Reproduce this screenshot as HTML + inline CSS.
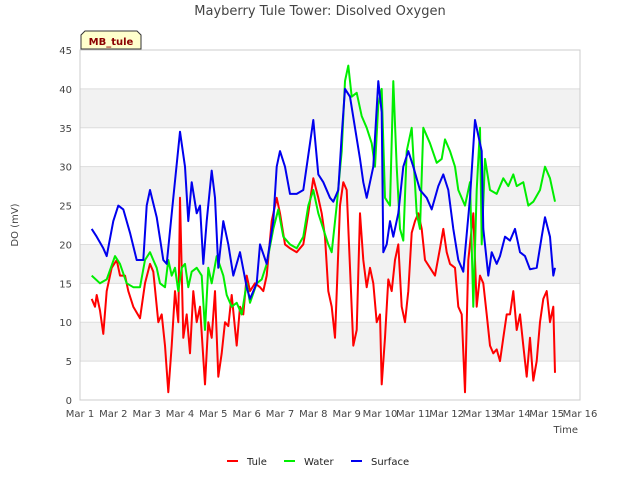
<!DOCTYPE html>
<html><head><meta charset="utf-8"><style>
body{margin:0;background:#fff;font-family:"DejaVu Sans","Liberation Sans",sans-serif;}
svg text{font-family:"DejaVu Sans","Liberation Sans",sans-serif;}
</style></head><body>
<svg id="chart" width="640" height="480" xmlns="http://www.w3.org/2000/svg">
<rect width="640" height="480" fill="#fff"/>
<text x="320" y="15" text-anchor="middle" font-size="13" fill="#444">Mayberry Tule Tower: Disolved Oxygen</text>
<g id="bands"></g>
<g id="grid"></g>
<rect x="80" y="50" width="500" height="350" fill="none" stroke="#ccc"/>
<g id="series"></g>
<g id="axes"></g>
<text transform="translate(18,225) rotate(-90)" text-anchor="middle" font-size="10" fill="#444">DO (mV)</text>
<text x="578" y="433" text-anchor="end" font-size="10" fill="#444">Time</text>
<g>
<path d="M81,49 L81,35 L85,31 L137,31 L141,35 L141,49 Z" fill="#ffffcc" stroke="#333"/>
<text x="111" y="45" text-anchor="middle" font-size="10" font-weight="bold" fill="#8b0000">MB_tule</text>
</g>
<g id="legend"></g>
</svg>
<script>
const yTicks=[0,5,10,15,20,25,30,35,40,45];
const xTickLabels=["Mar 1","Mar 2","Mar 3","Mar 4","Mar 5","Mar 6","Mar 7","Mar 8","Mar 9","Mar 10","Mar 11","Mar 12","Mar 13","Mar 14","Mar 15","Mar 16"];
const seriesNames=["Tule","Water","Surface"];
const tuleDays=[1.35,1.45,1.5,1.6,1.7,1.8,1.95,2.1,2.2,2.35,2.45,2.6,2.8,2.95,3.1,3.2,3.35,3.45,3.55,3.65,3.75,3.85,3.95,4.0,4.1,4.2,4.3,4.4,4.5,4.6,4.75,4.85,4.95,5.05,5.15,5.25,5.35,5.45,5.55,5.7,5.8,5.9,6.0,6.1,6.25,6.4,6.5,6.6,6.75,6.9,7.0,7.15,7.3,7.5,7.7,7.85,8.0,8.15,8.25,8.35,8.45,8.55,8.65,8.8,8.9,9.0,9.1,9.2,9.3,9.4,9.5,9.6,9.7,9.8,9.9,10.0,10.05,10.15,10.25,10.35,10.45,10.55,10.65,10.75,10.85,10.95,11.05,11.15,11.25,11.35,11.5,11.65,11.8,11.9,12.0,12.1,12.25,12.35,12.45,12.55,12.65,12.8,12.9,13.0,13.1,13.2,13.3,13.4,13.5,13.6,13.7,13.8,13.9,14.0,14.1,14.2,14.3,14.4,14.5,14.6,14.7,14.8,14.9,15.0,15.1,15.2,15.25];
const tuleVals=[13,12,13.5,11.5,8.5,14,17,18,16,16,14,12,10.5,15,17.5,16.5,10,11,7,1,7,14,10,26,8,11,6,14,10,12,2,10,8,14,3,6,10,9.5,13.5,7,12,11,16,14,15,14.5,14,16,23,26,24,20,19.5,19,20,24,28.5,26,24,21,14,12,8,25,28,27,17,7,9,24,18,14.5,17,15,10,11,2,8,15.5,14,18,20,12,10,14,21.5,23,24,22,18,17,16,19.5,22,19,17.5,17,12,11,1,18,24,12,16,15,11,7,6,6.5,5,8,11,11,14,9,11,7,3,8,2.5,5,10,13,14,10,12,3.5];
const waterDays=[1.35,1.6,1.8,2.05,2.2,2.4,2.6,2.8,2.95,3.1,3.2,3.3,3.4,3.55,3.65,3.75,3.85,3.95,4.05,4.15,4.25,4.35,4.5,4.65,4.75,4.85,4.95,5.1,5.3,5.4,5.55,5.7,5.85,6.0,6.1,6.3,6.45,6.6,6.8,6.95,7.1,7.3,7.5,7.7,7.85,8.0,8.15,8.3,8.45,8.55,8.7,8.85,8.95,9.05,9.15,9.3,9.45,9.6,9.75,9.85,9.95,10.05,10.15,10.3,10.4,10.5,10.6,10.7,10.8,10.95,11.1,11.2,11.3,11.5,11.7,11.85,11.95,12.1,12.25,12.35,12.55,12.7,12.8,12.9,13.0,13.05,13.15,13.3,13.5,13.7,13.85,14.0,14.1,14.3,14.45,14.6,14.8,14.95,15.1,15.25];
const waterVals=[16,15,15.5,18.5,17.5,15,14.5,14.5,18,19,18,17,15,14.5,18,16,17,14,17,17.5,14.5,16.5,17,16,9,17,15,18.5,16,13.5,12,12.5,11,15,12.5,15,15.5,17.5,22,24.5,21,20,19.5,21,25,27,24,22,20,19,25,32,41,43,39,39.5,36.5,35,33,30,38,40,26,25,41,30,22,20.5,32,35,24,22,35,33,30.5,31,33.5,32,30,27,25,28,12,27,35,20,31,27,26.5,28.5,27.5,29,27.5,28,25,25.5,27,30,28.5,25.5];
const surfDays=[1.35,1.5,1.7,1.8,2.0,2.15,2.3,2.5,2.7,2.9,3.0,3.1,3.3,3.5,3.6,3.8,4.0,4.15,4.25,4.35,4.5,4.6,4.7,4.8,4.95,5.05,5.15,5.3,5.45,5.6,5.8,6.0,6.1,6.3,6.4,6.6,6.8,6.9,7.0,7.15,7.3,7.5,7.7,7.9,8.0,8.15,8.3,8.5,8.6,8.75,8.85,8.95,9.1,9.25,9.4,9.5,9.6,9.7,9.8,9.95,10.05,10.1,10.2,10.3,10.4,10.55,10.7,10.85,11.0,11.2,11.4,11.55,11.75,11.9,12.05,12.2,12.35,12.5,12.7,12.85,12.95,13.05,13.1,13.25,13.35,13.5,13.6,13.75,13.9,14.05,14.2,14.35,14.5,14.7,14.85,14.95,15.1,15.2,15.25];
const surfVals=[22,21,19.5,18.5,23,25,24.5,21.5,18,18,25,27,23.5,18,17.5,26,34.5,30,23,28,24,25,17.5,23,29.5,26,17,23,20,16,19,14.5,13,15,20,17.5,23,30,32,30,26.5,26.5,27,33,36,29,28,26,25.5,27,34,40,39,35,31,28,26,28,30,41,37,19,20,23,21,24,30,32,30,27,26,24.5,27.5,29,27,22,18,16.5,26,36,34,32,22,16,19,17.5,18.5,21,20.5,22,19,18.5,16.8,17,21,23.5,21,16,17];
const NS="http://www.w3.org/2000/svg";
const X0=80,X1=580,Y0=400,Y1=50;
function xs(d){return X0+(d-1)/15*(X1-X0);}
function ys(v){return Y0-v/45*(Y0-Y1);}
function mk(tag,attrs,parent){const e=document.createElementNS(NS,tag);for(const k in attrs)e.setAttribute(k,attrs[k]);parent.appendChild(e);return e;}
const bands=document.getElementById('bands'),grid=document.getElementById('grid'),axes=document.getElementById('axes'),ser=document.getElementById('series'),leg=document.getElementById('legend');
for(let i=0;i<yTicks.length-1;i++){
  if(i%2===1){const r=mk('rect',{x:X0,y:ys(yTicks[i+1]),width:X1-X0,height:ys(yTicks[i])-ys(yTicks[i+1]),fill:'#f2f2f2'},bands);
  
  }
}
yTicks.forEach(v=>{
  const l=mk('line',{x1:X0,x2:X1,y1:ys(v),y2:ys(v),stroke:'#ddd'},grid);
  
  
  const t=mk('text',{x:X0-8,y:ys(v)+4,'text-anchor':'end','font-size':10,fill:'#444'},axes);
  t.textContent=v;
  
  
});
xTickLabels.forEach((s,i)=>{
  const t=mk('text',{x:xs(i+1),y:Y0+17,'text-anchor':'middle','font-size':10,fill:'#444'},axes);
  t.textContent=s;
  
  
});
const all=[[tuleDays,tuleVals,'#ff0000'],[waterDays,waterVals,'#00ee00'],[surfDays,surfVals,'#0000ee']];
all.forEach((s,k)=>{
  const pts=s[0].map((d,i)=>xs(d).toFixed(1)+','+ys(s[1][i]).toFixed(1)).join(' ');
  const p=mk('polyline',{points:pts,fill:'none',stroke:s[2],'stroke-width':2,'stroke-linejoin':'round'},ser);
  
  
});
const lx=[227,284,351];
seriesNames.forEach((n,k)=>{
  const g=mk('g',{},leg);
  
  
  mk('line',{x1:lx[k],x2:lx[k]+11,y1:461,y2:461,stroke:all[k][2],'stroke-width':2},g);
  const t=mk('text',{x:lx[k]+20,y:465,'font-size':10,fill:'#222'},g);
  t.textContent=n;
});
</script>
</body></html>
